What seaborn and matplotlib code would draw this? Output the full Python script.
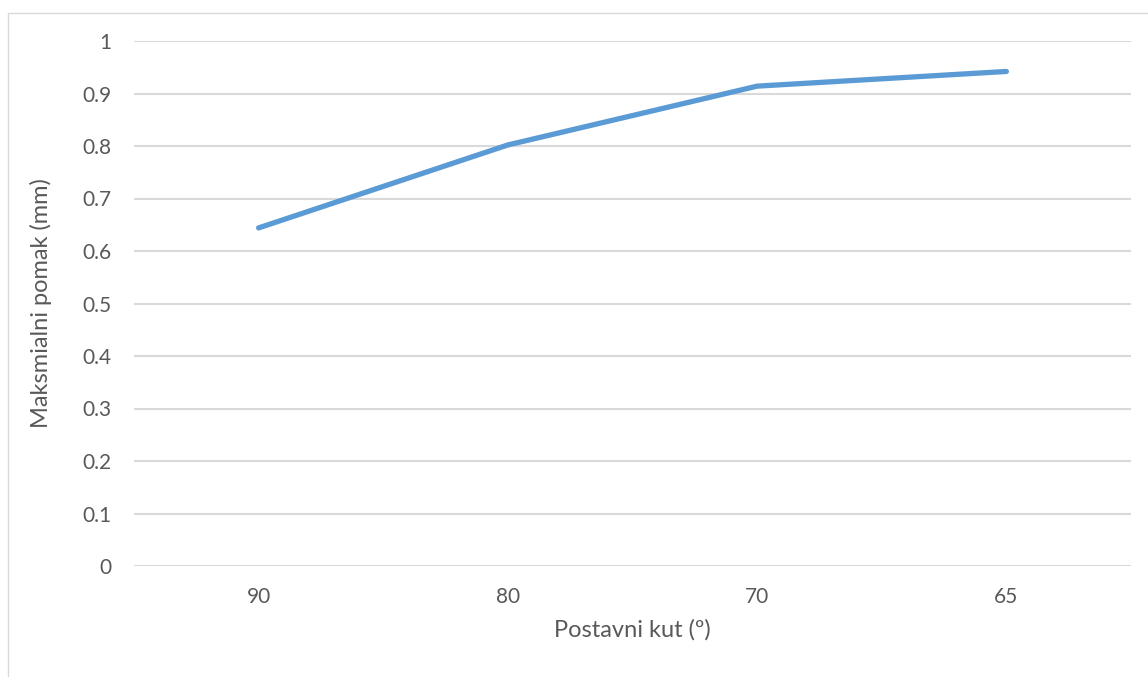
import matplotlib
matplotlib.use('Agg')
import matplotlib.pyplot as plt
import seaborn as sns
import pandas as pd
from matplotlib.lines import Line2D

angles = ['90', '80', '70', '65']
max_disp = [0.644, 0.802, 0.914, 0.942]
y_ticks = [0, 0.1, 0.2, 0.3, 0.4, 0.5, 0.6, 0.7, 0.8, 0.9, 1.0]
y_tick_labels = ['0', '0.1', '0.2', '0.3', '0.4', '0.5', '0.6', '0.7', '0.8', '0.9', '1']

df = pd.DataFrame({'kut': angles, 'pomak': max_disp})

sns.set_style('white')
plt.rcParams['font.family'] = ['Lato', 'DejaVu Sans']
text_col = '#595959'
grid_col = '#d9d9d9'

fig = plt.figure(figsize=(11.48, 6.77), dpi=100)
ax = fig.add_axes([134 / 1148, 1 - 566 / 677, (1131 - 134) / 1148, (566 - 41) / 677])

sns.lineplot(data=df, x='kut', y='pomak', sort=False, ax=ax, color='#5b9bd5',
             linewidth=3.8, solid_capstyle='round', solid_joinstyle='round', zorder=3)

ax.set_xlim(-0.5, 3.5)
ax.set_ylim(0, 1)
ax.set_yticks(y_ticks)
ax.set_yticklabels(y_tick_labels)
ax.yaxis.grid(True, color=grid_col, linewidth=1.5)
ax.xaxis.grid(False)
for s in ax.spines.values():
    s.set_visible(False)
ax.tick_params(axis='both', length=0, labelsize=15, colors=text_col)
ax.tick_params(axis='y', pad=16)
ax.tick_params(axis='x', pad=15)
ax.set_xlabel('Postavni kut (º)', fontsize=17, color=text_col, labelpad=9)
ax.set_ylabel('Maksmialni pomak (mm)', fontsize=17, color=text_col, labelpad=22)

# chart area border (Excel style), left and top visible
fig.add_artist(Line2D([7.5 / 1148, 7.5 / 1148], [0, 1 - 12.5 / 677], transform=fig.transFigure,
                      color=grid_col, linewidth=1))
fig.add_artist(Line2D([7.5 / 1148, 1], [1 - 12.5 / 677, 1 - 12.5 / 677], transform=fig.transFigure,
                      color=grid_col, linewidth=1))

fig.savefig('out.png', dpi=100, facecolor='white')
